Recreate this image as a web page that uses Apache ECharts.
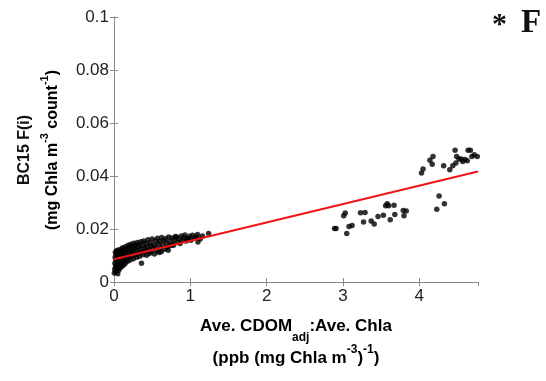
<!DOCTYPE html>
<html><head><meta charset="utf-8">
<script src="https://cdn.jsdelivr.net/npm/echarts@6/dist/echarts.min.js"></script>
<style>html,body{margin:0;padding:0;background:#fff}#c{width:546px;height:381px}</style>
</head><body><div id="c"></div>
<script>
// Low-ratio cluster (x: CDOM:Chla ratio, y: F(i))
const lowCluster = [
[0.005,0.0034],[0.010,0.0048],[0.012,0.0071],[0.015,0.0093],[0.018,0.0112],[0.020,0.0058],[0.022,0.0039],[0.025,0.0082],[0.028,0.0103],[0.030,0.0064],[0.033,0.0118],[0.035,0.0046],[0.038,0.0088],[0.040,0.0075],[0.042,0.0097],[0.045,0.0055],[0.048,0.0109],[0.050,0.0031],[0.053,0.0068],[0.055,0.0121],[0.058,0.0084],[0.060,0.0044],[0.064,0.0101],[0.067,0.0061],[0.070,0.0092],[0.073,0.0114],[0.076,0.0052],[0.080,0.0079],[0.083,0.0106],[0.086,0.0067],[0.090,0.0124],[0.094,0.0088],[0.098,0.0058],[0.102,0.0099],[0.106,0.0117],[0.110,0.0074],[0.114,0.0129],[0.118,0.0091],[0.122,0.0063],[0.127,0.0107],[0.132,0.0083],[0.137,0.0122],[0.142,0.0098],[0.147,0.0070],[0.152,0.0133],[0.157,0.0112],[0.162,0.0087],[0.168,0.0126],[0.174,0.0101],[0.180,0.0078],[0.186,0.0139],[0.192,0.0115],[0.198,0.0094],[0.204,0.0131],[0.210,0.0083],[0.216,0.0108],[0.222,0.0142],[0.228,0.0121],[0.234,0.0097],[0.240,0.0135],[0.247,0.0114],[0.254,0.0088],[0.261,0.0146],[0.268,0.0126],[0.275,0.0104],[0.282,0.0138],[0.290,0.0119],[0.298,0.0093],[0.306,0.0149],[0.314,0.0131],[0.322,0.0109],[0.330,0.0142],[0.338,0.0097],[0.346,0.0124],[0.355,0.0152],[0.360,0.0071],[0.364,0.0113],[0.373,0.0137],[0.382,0.0104],[0.391,0.0155],[0.400,0.0128],[0.409,0.0117],[0.418,0.0146],[0.427,0.0101],[0.436,0.0133],[0.445,0.0159],[0.454,0.0121],[0.463,0.0108],[0.472,0.0147],[0.481,0.0136],[0.490,0.0114],[0.500,0.0162],[0.510,0.0127],[0.520,0.0141],[0.530,0.0106],[0.540,0.0156],[0.550,0.0132],[0.560,0.0119],[0.570,0.0165],[0.580,0.0144],[0.590,0.0111],[0.600,0.0153],[0.612,0.0128],[0.620,0.0114],[0.625,0.0168],[0.638,0.0139],[0.650,0.0157],[0.663,0.0124],[0.676,0.0163],[0.689,0.0146],[0.702,0.0131],[0.710,0.0120],[0.716,0.0170],[0.730,0.0152],[0.745,0.0138],[0.760,0.0166],[0.775,0.0143],[0.780,0.0139],[0.790,0.0159],[0.805,0.0172],[0.820,0.0170],[0.835,0.0151],[0.850,0.0163],[0.866,0.0145],[0.882,0.0174],[0.898,0.0158],[0.915,0.0168],[0.930,0.0177],[0.947,0.0155],[0.965,0.0164],[0.970,0.0162],[0.990,0.0173],[1.010,0.0158],[1.030,0.0176],[1.055,0.0166],[1.080,0.0170],[1.095,0.0179],[1.100,0.0151],[1.130,0.0162],[1.160,0.0174],[1.240,0.0183]
];
const midCluster = [
[2.89,0.0202],[2.91,0.0202],[3.01,0.0250],[3.03,0.0260],[3.05,0.0183],[3.08,0.0209],[3.12,0.0213],[3.23,0.0261],[3.29,0.0262],[3.27,0.0226],[3.37,0.0230],[3.41,0.0219],[3.46,0.0247],[3.53,0.0252],[3.56,0.0288],[3.58,0.0295],[3.60,0.0288],[3.62,0.0235],[3.67,0.0290],[3.68,0.0255],[3.79,0.0270],[3.83,0.0268],[3.80,0.0250]
];
const highCluster = [
[4.03,0.0411],[4.05,0.0426],[4.14,0.0459],[4.18,0.0474],[4.17,0.0444],[4.23,0.0275],[4.26,0.0325],[4.33,0.0295],[4.32,0.0439],[4.40,0.0424],[4.44,0.0439],[4.47,0.0497],[4.49,0.0474],[4.48,0.0449],[4.52,0.0464],[4.55,0.0464],[4.57,0.0455],[4.60,0.0462],[4.63,0.0458],[4.64,0.0497],[4.67,0.0497],[4.69,0.0474],[4.72,0.0480],[4.76,0.0474]
];
const fitLine = [[0,0.0086],[4.77,0.0417]];
const xRange = [0, 4.77];
const yRange = [0, 0.1];

const chart = echarts.init(document.getElementById('c'));
const axisCol = '#8a8a8a';
const lblCol = '#222';
const boxAxis = (pos, rng, iv) => ({
  type:'value', position:pos, min:rng[0], max:rng[1], interval:iv,
  axisLine:{show:true,lineStyle:{color:axisCol,width:1}},
  axisTick:{show:true,inside:true,length:4,lineStyle:{color:axisCol}},
  axisLabel:{show:false}, splitLine:{show:false}
});
const base = {fontFamily:'Liberation Sans',fontWeight:'bold',color:'#111'};
const S = o => Object.assign({}, base, o);
chart.setOption({
  animation:false,
  backgroundColor:'#fff',
  grid:{left:114,right:68,top:17,bottom:99},
  xAxis:[
    {type:'value',position:'bottom',min:xRange[0],max:xRange[1],interval:1,
     axisLine:{show:true,lineStyle:{color:axisCol}},
     axisTick:{show:true,inside:true,length:4,lineStyle:{color:axisCol}},
     axisLabel:{color:lblCol,fontSize:17,fontFamily:'Liberation Sans',margin:6,showMaxLabel:false},
     splitLine:{show:false}},
    boxAxis('top',xRange,1)
  ],
  yAxis:[
    {type:'value',position:'left',min:yRange[0],max:yRange[1],interval:0.02,
     axisLine:{show:true,lineStyle:{color:axisCol}},
     axisTick:{show:true,inside:true,length:4,lineStyle:{color:axisCol}},
     axisLabel:{color:lblCol,fontSize:17,fontFamily:'Liberation Sans',margin:5},
     splitLine:{show:false}},
    boxAxis('right',yRange,0.02)
  ],
  series:[
    {type:'scatter',data:lowCluster,symbolSize:5.5,itemStyle:{color:'#000'}},
    {type:'scatter',data:midCluster,symbolSize:5.5,itemStyle:{color:'#000'}},
    {type:'scatter',data:highCluster,symbolSize:5.5,itemStyle:{color:'#000'}},
    {type:'line',data:fitLine,showSymbol:false,lineStyle:{color:'#f01414',width:2},z:5}
  ],
  graphic:[
    {type:'text',x:25,y:150,rotation:Math.PI/2,
     style:{text:'BC15 F(i)',font:'bold 16px "Liberation Sans"',fill:'#111',align:'center',verticalAlign:'middle'}},
    {type:'text',x:50,y:150,rotation:Math.PI/2,
     style:{text:'{b|(mg Chla m}{s|-3}{b| count}{s|-1}{b|)}',align:'center',verticalAlign:'middle',
       rich:{b:S({fontSize:16,lineHeight:22,verticalAlign:'bottom'}),
             s:S({fontSize:11,lineHeight:22,verticalAlign:'top'})}}},
    {type:'text',x:296,y:331,
     style:{text:'{b|Ave. CDOM}{s|adj}{b|:Ave. Chla}',align:'center',verticalAlign:'middle',
       rich:{b:S({fontSize:17,lineHeight:26,verticalAlign:'top'}),
             s:S({fontSize:12,lineHeight:26,verticalAlign:'bottom'})}}},
    {type:'text',x:296,y:355,
     style:{text:'{b|(ppb (mg Chla m}{s|-3}{b|)}{s|-1}{b|)}',align:'center',verticalAlign:'middle',
       rich:{b:S({fontSize:17,lineHeight:23,verticalAlign:'bottom'}),
             s:S({fontSize:12,lineHeight:23,verticalAlign:'top'})}}},
    {type:'text',x:492,y:10,style:{text:'*',font:'bold 30px "Liberation Serif"',fill:'#111'}},
    {type:'text',x:521,y:7,style:{text:'F',font:'bold 33px "Liberation Serif"',fill:'#111'}}
  ]
});
</script></body></html>
